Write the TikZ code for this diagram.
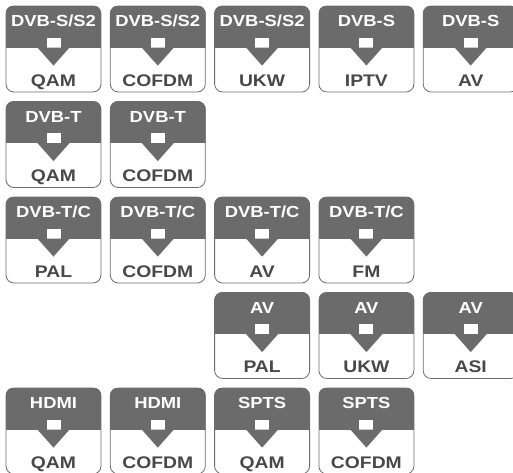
\documentclass[tikz,border=0pt]{standalone}
\usepackage{fontspec}
\newfontfamily\tilefont{Liberation Sans Bold}[FakeStretch=1.15]

\definecolor{tilegray}{HTML}{6B6B6B}
\definecolor{textgray}{HTML}{484848}

\begin{document}
\begin{tikzpicture}[
    x=1pt, y=1pt,
    % --- Styles ---
    tile box/.style={draw=tilegray, line width=0.8pt, rounded corners=8pt,
        minimum width=95pt, minimum height=86pt, inner sep=0pt},
    % Dark header band (clipped to the rounded outline)
    head band/.style={fill=tilegray},
    head text/.style={font=\tilefont\fontsize{16}{16}\selectfont, text=white, anchor=base, inner sep=0pt},
    foot text/.style={font=\tilefont\fontsize{16.8}{17}\selectfont, text=textgray, anchor=base, inner sep=0pt},
    stem/.style={fill=white},
    arrow head/.style={fill=tilegray}
]

%================CONFIGURATION================
% Geometry settings (centre of first tile, pitch)
\def\xzero{53.5}
\def\yzero{49}
\def\hpitch{104.3}
\def\vpitch{95.5}
\def\band{42}
%=============================================

\useasboundingbox (0,0) rectangle (513,-472);
\clip (0,0) rectangle (513,-472);

\foreach \col/\row/\src/\dst [count=\c] in {
    1/1/{DVB-S/S2}/QAM, 2/1/{DVB-S/S2}/COFDM, 3/1/{DVB-S/S2}/UKW, 4/1/DVB-S/IPTV, 5/1/DVB-S/AV,
    1/2/DVB-T/QAM, 2/2/DVB-T/COFDM,
    1/3/{DVB-T/C}/PAL, 2/3/{DVB-T/C}/COFDM, 3/3/{DVB-T/C}/AV, 4/3/{DVB-T/C}/FM,
    3/4/AV/PAL, 4/4/AV/UKW, 5/4/AV/ASI,
    1/5/HDMI/QAM, 2/5/HDMI/COFDM, 3/5/SPTS/QAM, 4/5/SPTS/COFDM} {

    % --- 1. Calculate Position ---
    \pgfmathsetmacro{\xTile}{\xzero + (\col-1)*\hpitch}
    \pgfmathsetmacro{\yTile}{-(\yzero + (\row-1)*\vpitch)}

    % --- 2. Draw Tile ---
    \node[tile box] (T\c) at (\xTile, \yTile) {};
    \begin{scope}
        \clip[rounded corners=8pt] (T\c.south west) rectangle (T\c.north east);
        \fill[head band] (T\c.north west) rectangle ([yshift=-\band pt]T\c.north east);
    \end{scope}

    % White stem inside the band, grey head below it
    \fill[stem] ([xshift=-7pt, yshift=-32pt]T\c.north) rectangle ([xshift=7pt, yshift=-\band pt]T\c.north);
    \fill[arrow head] ([xshift=-16pt, yshift=-\band pt]T\c.north) -- ([xshift=16pt, yshift=-\band pt]T\c.north)
        -- ([yshift=-60pt]T\c.north) -- cycle;

    % --- 3. Labels ---
    \node[head text] (H\c) at ([yshift=-21pt]T\c.north) {\src};
    \node[foot text] (F\c) at ([yshift=6pt]T\c.south) {\dst};
}

\end{tikzpicture}
\end{document}
